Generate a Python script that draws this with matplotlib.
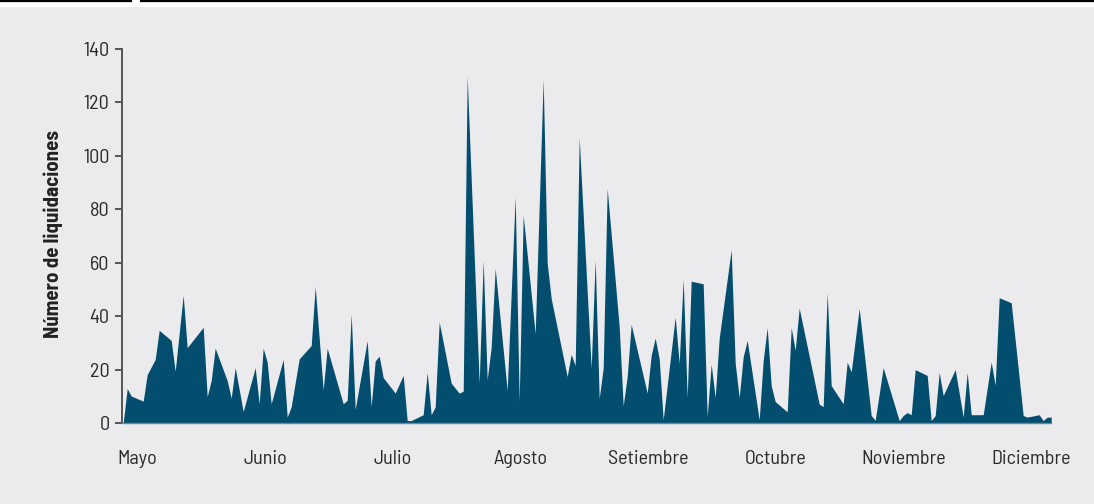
import matplotlib
matplotlib.use("Agg")
import matplotlib.pyplot as plt
from matplotlib.lines import Line2D
from matplotlib.patches import Rectangle

# Day index (position of each observation) and number of liquidations
days = [0, 1, 2, 5, 6, 8, 9, 12, 13, 15, 16, 20, 21, 22, 23, 26, 27, 28, 30, 33,
        34, 35, 36, 37, 40, 41, 42, 44, 47, 48, 50, 51, 55, 56, 57, 58, 61, 62, 63, 64,
        65, 68, 70, 71, 72, 75, 76, 77, 78, 79, 82, 84, 85, 86, 89, 90, 91, 92, 93, 96,
        98, 99, 100, 103, 105, 106, 107, 111, 112, 113, 114, 117, 118, 119, 120, 121, 124, 125, 126, 127,
        131, 132, 133, 134, 135, 138, 139, 140, 141, 142, 145, 146, 147, 148, 149, 152, 153, 154, 155, 156,
        159, 160, 161, 162, 163, 166, 167, 168, 169, 174, 175, 176, 177, 180, 181, 182, 184, 187, 188, 190,
        194, 195, 196, 197, 198, 201, 202, 203, 204, 205, 208, 210, 211, 212, 215, 217, 218, 219, 222, 225,
        226, 229, 230, 231, 232]
liquidaciones = [0, 12.9, 10.1, 8.2, 18.1, 23.8, 34.7, 30.9, 19.4, 47.8, 28.2, 35.8, 9.9, 15.9, 28, 15.9, 9.3, 20.7, 4.3, 20.7,
                 7.2, 28, 22.8, 7.2, 23.8, 2.2, 6.1, 24, 29, 51, 12.4, 28, 7.2, 8.5, 40.8, 5.1, 30.8, 6.2, 23.2, 25,
                 17, 11.2, 17.8, 0.9, 0.9, 3.1, 18.9, 3.1, 6.0, 37.8, 14.9, 11.2, 11.9, 129.6, 14.9, 60.8, 16.2, 28.4, 57.8, 12.2,
                 84.7, 8.2, 77.8, 33.5, 128.6, 59.8, 46.6, 17.4, 25.7, 21.5, 106.7, 20.5, 61.1, 9.2, 20.5, 87.8, 36.1, 6.4, 17.4, 36.9,
                 11.2, 25.3, 31.8, 24.1, 1.2, 39.6, 22.4, 53.8, 9.6, 53.1, 52.1, 2.4, 22, 9.5, 31.7, 64.8, 22.4, 9.5, 24.8, 30.9,
                 1.2, 23.4, 35.7, 14, 8.0, 4.2, 35.7, 27.2, 43.0, 7.1, 6.1, 48.7, 14, 7.2, 22.8, 19.1, 42.9, 2.8, 1.0, 20.7,
                 0.9, 2.8, 3.9, 3.1, 20.0, 17.8, 0.9, 2.8, 18.9, 10.3, 20.0, 2.2, 18.9, 3.1, 3.1, 22.8, 14.1, 46.9, 45.0, 2.8,
                 2.2, 3.1, 0.9, 2.2, 2.2]

months = ["Mayo", "Junio", "Julio", "Agosto", "Setiembre", "Octubre", "Noviembre", "Diciembre"]
month_pos = [3.5 + 31.93 * i for i in range(len(months))]
yticks = [0, 20, 40, 60, 80, 100, 120, 140]

FONT = ["Barlow Semi Condensed", "DejaVu Sans"]
plt.rcParams["font.family"] = FONT

W, H = 1094, 504
fig = plt.figure(figsize=(W / 100, H / 100), dpi=100)
fig.patch.set_facecolor("white")

# gray panel and top rules
fig.add_artist(Rectangle((0, 0), 1, (H - 7) / H, transform=fig.transFigure,
                         facecolor="#ebebed", edgecolor="none", zorder=-10))
fig.add_artist(Line2D([0, 131 / W], [1 - 1 / H, 1 - 1 / H], transform=fig.transFigure,
                      color="black", linewidth=1.6))
fig.add_artist(Line2D([141 / W, 1], [1 - 1 / H, 1 - 1 / H], transform=fig.transFigure,
                      color="black", linewidth=1.6))

left, right = 122, 1051.2
bottom, top = 423, 49
ax = fig.add_axes([left / W, (H - bottom) / H, (right - left) / W, (bottom - top) / H])
ax.patch.set_visible(False)

ax.fill_between(days, liquidaciones, 0, color="#034d6e", linewidth=0)

ax.set_xlim(-0.3, 232)
ax.set_ylim(0, 140)

for s in ["top", "right"]:
    ax.spines[s].set_visible(False)
ax.spines["left"].set_color("#555555")
ax.spines["left"].set_linewidth(1.4)
ax.spines["bottom"].set_color("#5f8aa6")
ax.spines["bottom"].set_linewidth(1.0)

ax.set_yticks(yticks)
ax.set_yticklabels([str(v) for v in yticks])
ax.tick_params(axis="y", length=5, width=1.4, color="#555555", pad=4,
               labelsize=14.5, labelcolor="#2a2a2a")

ax.set_xticks(month_pos)
ax.set_xticklabels(months)
ax.tick_params(axis="x", length=0, pad=19.5, labelsize=14.5, labelcolor="#2a2a2a")

ax.set_ylabel("Número de liquidaciones", fontsize=15, fontweight="bold", color="#222222")
ax.yaxis.set_label_coords((63 - left) / (right - left), (bottom - 234) / (bottom - top))

fig.savefig("out.png", dpi=100)
